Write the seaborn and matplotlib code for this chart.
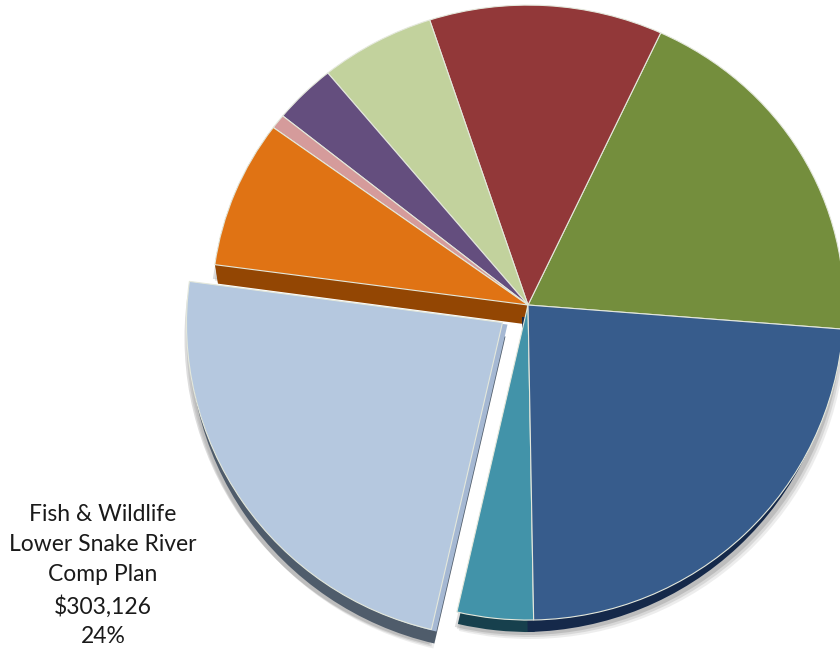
import numpy as np
import matplotlib
matplotlib.use("Agg")
import matplotlib.pyplot as plt
import seaborn as sns

# Budget shares, counter-clockwise from the right-hand edge
slice_names = ["Green", "Red", "Sage", "Purple", "Rose", "Orange",
               "Fish & Wildlife", "Teal", "Blue"]
dollars = [248900, 153700, 75800, 41500, 10000, 102200, 303126, 50200, 302600]
top_colors = ["#748E3D", "#923839", "#C2D29D", "#644E7E", "#D59B9B", "#E07314",
              "#B5C8DF", "#4293A9", "#375C8C"]
side_colors = ["#4D5F28", "#612526", "#818C68", "#423453", "#8E6767", "#934603",
               "#4F5C6B", "#17404D", "#15294A"]
callout = "Fish & Wildlife\nLower Snake River\nComp Plan\n$303,126\n24%"

sns.set_theme(style="white")
plt.rcParams["font.family"] = ["Lato", "DejaVu Sans"]

START = -4.4
RADIUS = 316
APEX = (528, 0)
EXPLODE = [0, 0, 0, 0, 0, 0, 31, 0, 0]
UPPER_SQUASH = 0.949
LOWER_SQUASH = 0.997
top_palette = sns.color_palette(top_colors)
side_palette = sns.color_palette(side_colors)

fig = plt.figure(figsize=(8.4, 6.52), dpi=100)
ax = fig.add_axes([0, 0, 1, 1])


def layer(colors, shift=(0, 0), **wedge):
    """Draw the whole pie once; slices coloured 'none' stay invisible."""
    style = {"linewidth": 0}
    style.update(wedge)
    ax.pie(dollars, colors=colors, startangle=START, radius=RADIUS,
           center=(APEX[0] + shift[0], APEX[1] + shift[1]),
           explode=EXPLODE, wedgeprops=style)


def only(index, color):
    return [color if i in index else "none" for i in range(len(dollars))]


# Soft drop shadow beneath the disc
for spread, alpha in zip((5, 3, 1), (0.10, 0.14, 0.20)):
    layer(["#555555"] * 9, shift=(spread - 3, -14 - spread), alpha=alpha)

# Raised side walls of the disc
layer(only({6}, side_palette[6]), shift=(3, -14))
layer(only({6}, "#A5B8D3"), shift=(5, -2))
for depth in range(0, 21):
    layer(only({5}, side_palette[5]), shift=(3 * depth / 20, -depth))
layer(only({7}, side_palette[7]), shift=(1, -12))
layer(only({8}, side_palette[8]), shift=(-6, -12))

# Top surface with hairline highlights between slices
layer(top_palette, linewidth=0.8, edgecolor="#E4E8DC")

ax.text(103, -200, callout, ha="center", va="top", fontsize=16.5,
        color="#1a1a1a", linespacing=1.52)


def squash(y):
    y = np.asarray(y, dtype=float)
    return np.where(y > 0, y * UPPER_SQUASH, y * LOWER_SQUASH)


def unsquash(y):
    y = np.asarray(y, dtype=float)
    return np.where(y > 0, y / UPPER_SQUASH, y / LOWER_SQUASH)


ax.set_aspect("auto")
ax.set_yscale("function", functions=(squash, unsquash))
ax.set_xlim(0, 840)
ax.set_ylim(float(unsquash(-347)), float(unsquash(305)))
ax.axis("off")

fig.savefig("out.png", dpi=100, facecolor="white")
